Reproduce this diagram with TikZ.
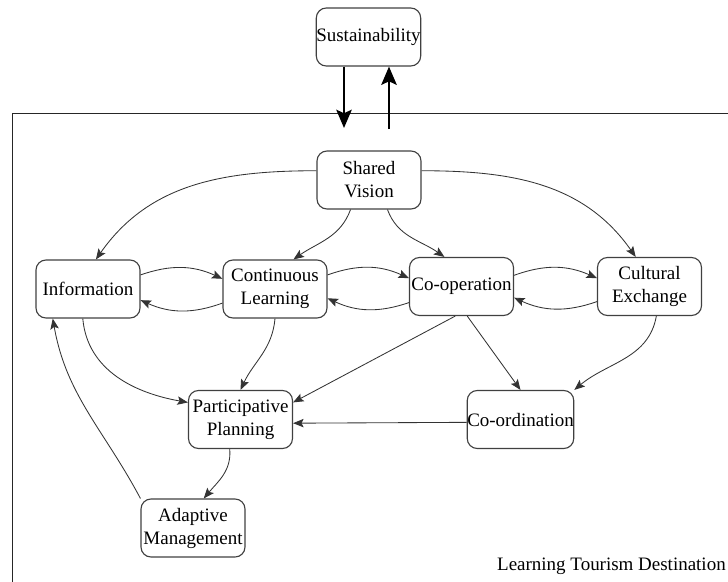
\documentclass[tikz,border=0pt]{standalone}
\usepackage{fontspec}
\setmainfont{Liberation Serif}
\usetikzlibrary{arrows.meta,positioning,calc}

\begin{document}
\begin{tikzpicture}[x=0.025cm, y=-0.025cm,
    box/.style={draw=black!75, line width=0.8pt, rounded corners=0.25cm,
                minimum width=2.6cm, minimum height=1.45cm, inner xsep=0pt,
                inner ysep=1pt, align=center,
                font=\fontsize{13.5}{16.4}\selectfont},
    arr/.style={draw=black!80, line width=0.6pt,
                -{Stealth[length=7.5pt, width=6pt, inset=1.5pt]}},
    bigarr/.style={draw=black, line width=1.5pt,
                -{Stealth[length=13pt, width=11pt, inset=2.5pt]}}]
        % keep the page the size of the reference
        \useasboundingbox (0,0) rectangle (728,581);

        % the frame of the destination (runs off the page)
        \draw[black!85, line width=0.7pt] (12,620) -- (12,113) -- (760,113);
        \node[anchor=base east, inner sep=0pt, font=\fontsize{13.5}{16}\selectfont]
              (dest) at (726,570) {Learning Tourism Destination};

        % the boxes
        \node[box] (sus)   at (368.5,37)    {Sustainability};
        \node[box] (shv)   at (369,180)     {Shared\\Vision};
        \node[box] (inf)   at (88,289)      {Information};
        \node[box] (cl)    at (275,289)     {Continuous\\Learning};
        \node[box] (coop)  at (461.5,286.5) {Co-operation};
        \node[box] (cult)  at (649.5,286.5) {Cultural\\Exchange};
        \node[box] (pp)    at (240.5,419.5) {Participative\\Planning};
        \node[box] (coord) at (520.5,419.5) {Co-ordination};
        \node[box] (am)    at (193,528)     {Adaptive\\Management};

        % in and out of the frame
        \coordinate (down) at (344,128);
        \coordinate (up)   at (389,129);
        \draw[bigarr] (sus.south -| down) -- (down);
        \draw[bigarr] (up) -- (sus.south -| up);

        % from the shared vision
        \draw[arr] (shv.170) to[out=180, in=55] (inf.75);
        \draw[arr] (shv.10) to[out=0, in=125] (cult.115);
        \draw[arr] (shv.238) to[out=-110, in=35] (cl.58);
        \draw[arr] (shv.302) to[out=-70, in=145] (coop.120);

        % back and forth along the row
        \draw[arr] (inf.15) to[bend left=22] (cl.169);
        \draw[arr] (cl.-165) to[bend left=22] (inf.-12);
        \draw[arr] (cl.15) to[bend left=22] (coop.171);
        \draw[arr] (coop.-163) to[bend left=22] (cl.-10);
        \draw[arr] (coop.12) to[bend left=22] (cult.171);
        \draw[arr] (cult.-164) to[bend left=22] (coop.-12);

        % down to planning and co-ordination
        \draw[arr] (inf.-100) to[out=-85, in=170] (pp.162);
        \draw[arr] (cl.south) to[out=-95, in=65] (pp.north);
        \draw[arr] (coop.-102) -- (pp.18);
        \draw[arr] (coop.-79) -- (coord.north);
        \draw[arr] (cult.-77) to[out=-100, in=40] (coord.north east);
        \draw[arr] (coord.183) -- (pp.-4);

        % and round again
        \draw[arr] (pp.-110) to[out=-85, in=50] (am.70);
        \draw[arr] (am.north west) to[out=118, in=-80] (inf.-140);
\end{tikzpicture}
\end{document}
